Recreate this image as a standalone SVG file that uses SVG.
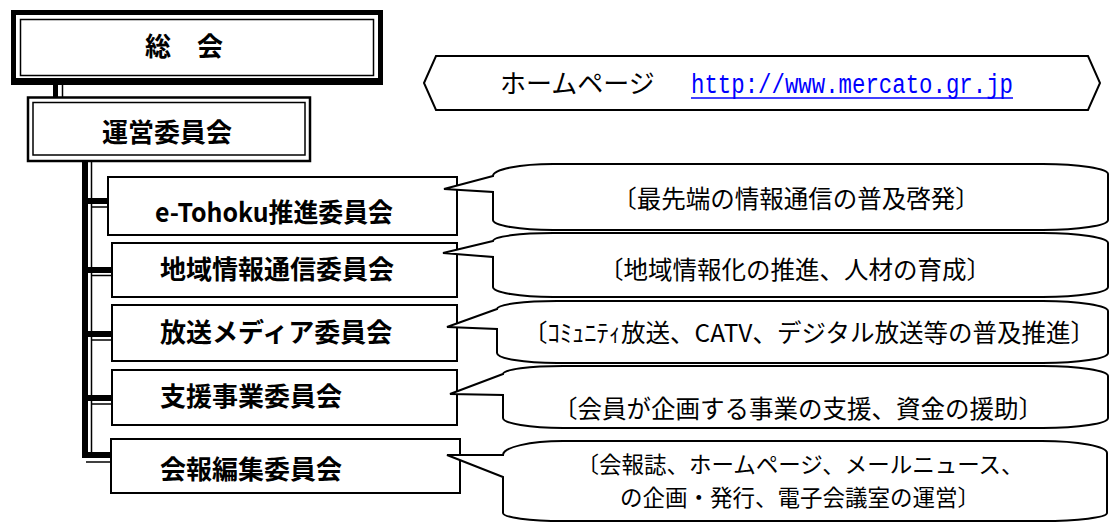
<svg xmlns="http://www.w3.org/2000/svg" width="1109" height="522" viewBox="0 0 1109 522">
<style>
.box{fill:#fff;stroke:#000;stroke-width:2}
.lbl{font-family:"Noto Sans CJK JP","Liberation Sans",sans-serif;font-weight:bold;font-size:26px;fill:#000}
.txt{font-family:"Noto Sans CJK JP","Liberation Sans",sans-serif;font-size:24.5px;fill:#000;text-anchor:middle}
.bub{fill:#fff;stroke:#000;stroke-width:2;stroke-linejoin:miter}
.thin{stroke:#000;stroke-width:1.5;fill:none}
</style>
<rect width="1109" height="522" fill="#fff"/>
<g id="connectors">
  <rect x="53" y="85" width="5" height="13" fill="#000"/>
  <line class="thin" x1="62.5" y1="85" x2="62.5" y2="98"/>
  <rect x="82" y="161" width="6" height="297" fill="#000"/>
  <line class="thin" x1="91.5" y1="161" x2="91.5" y2="452"/>
  <rect x="88" y="198" width="20" height="6" fill="#000"/>
  <line class="thin" x1="91" y1="207" x2="108" y2="207"/>
  <rect x="88" y="267" width="24" height="6" fill="#000"/>
  <line class="thin" x1="91" y1="275.5" x2="112" y2="275.5"/>
  <rect x="88" y="331" width="24" height="6" fill="#000"/>
  <line class="thin" x1="91" y1="340" x2="112" y2="340"/>
  <rect x="88" y="395" width="24" height="6" fill="#000"/>
  <line class="thin" x1="91" y1="404" x2="112" y2="404"/>
  <rect x="82" y="452" width="30" height="6" fill="#000"/>
  <line class="thin" x1="86" y1="462" x2="111" y2="462"/>
</g>
<g id="n-soukai">
  <rect x="11" y="10" width="372" height="75" fill="#000"/>
  <rect x="16" y="15" width="362" height="63" fill="#fff"/>
  <rect x="20.5" y="19.5" width="353" height="56" fill="none" stroke="#000" stroke-width="1.5"/>
  <text class="lbl" x="145" y="56">総　会</text>
</g>
<g id="n-unei">
  <rect x="28" y="97.5" width="282" height="63.5" fill="#fff" stroke="#000" stroke-width="2.5"/>
  <rect x="33" y="102.5" width="272" height="52.5" fill="none" stroke="#000" stroke-width="1.5"/>
  <text class="lbl" x="102" y="142">運営委員会</text>
</g>
<g id="n-homepage">
  <polygon points="424,83 436,56 1088,56 1100,83 1088,110 436,110" fill="#fff" stroke="#000" stroke-width="2"/>
  <text x="500" y="93" style="font-family:'Noto Sans CJK JP',sans-serif;font-size:26px;fill:#000">ホームページ</text>
  <text x="691" y="93" textLength="322" lengthAdjust="spacingAndGlyphs" style="font-family:'Liberation Mono',monospace;font-size:27px;fill:#0000ff">http://www.mercato.gr.jp</text>
  <line x1="691" y1="98" x2="1013" y2="98" stroke="#0000ff" stroke-width="1.5"/>
</g>
<g id="n-etohoku">
  <rect class="box" x="108" y="177" width="349" height="58"/>
  <text class="lbl" x="155" y="222" textLength="238" lengthAdjust="spacingAndGlyphs">e-Tohoku推進委員会</text>
</g>
<g id="n-chiiki">
  <rect class="box" x="112" y="243" width="345" height="54"/>
  <text class="lbl" x="160" y="279">地域情報通信委員会</text>
</g>
<g id="n-housou">
  <rect class="box" x="112" y="305" width="345" height="56"/>
  <text class="lbl" x="160" y="342">放送メディア委員会</text>
</g>
<g id="n-shien">
  <rect class="box" x="112" y="370" width="345" height="55"/>
  <text class="lbl" x="160" y="406">支援事業委員会</text>
</g>
<g id="n-kaihou">
  <rect class="box" x="111" y="439" width="349" height="54"/>
  <text class="lbl" x="160" y="479">会報編集委員会</text>
</g>
<g id="c-1">
  <path class="bub" d="M493,176 L444,189 L493,192 L493,220 A60,10 0 0 0 553,230 L1043,230 A65,10 0 0 0 1108,220 L1108,174 A65,10 0 0 0 1043,164 L553,164 A60,12 0 0 0 493,176 Z"/>
  <text class="txt" x="796" y="208">〔最先端の情報通信の普及啓発〕</text>
</g>
<g id="c-2">
  <path class="bub" d="M493,241 L443,253 L493,257 L493,287 A60,10 0 0 0 553,297 L1043,297 A65,10 0 0 0 1108,287 L1108,243 A65,10 0 0 0 1043,233 L553,233 A60,8 0 0 0 493,241 Z"/>
  <text class="txt" x="795" y="279">〔地域情報化の推進、人材の育成〕</text>
</g>
<g id="c-3">
  <path class="bub" d="M497,309 L447,327 L497,329 L497,353 A60,10 0 0 0 557,363 L1043,363 A65,10 0 0 0 1108,353 L1108,311 A65,10 0 0 0 1043,301 L557,301 A60,8 0 0 0 497,309 Z"/>
  <text class="txt" x="809" y="342">〔ｺﾐｭﾆﾃｨ放送、CATV、デジタル放送等の普及推進〕</text>
</g>
<g id="c-4">
  <path class="bub" d="M503,374 L450,394 L503,395 L503,418 A60,10 0 0 0 563,428 L1043,428 A65,10 0 0 0 1108,418 L1108,376 A65,10 0 0 0 1043,366 L563,366 A60,8 0 0 0 503,374 Z"/>
  <text class="txt" x="798" y="418">〔会員が企画する事業の支援、資金の援助〕</text>
</g>
<g id="c-5">
  <path class="bub" d="M503,455 L447,455 L503,477 L503,513 A60,8 0 0 0 563,521 L1042,521 A65,8 0 0 0 1107,513 L1107,453 A65,12 0 0 0 1042,441 L563,441 A60,14 0 0 0 503,455 Z"/>
  <text class="txt" x="800" y="473" style="font-size:22.5px">〔会報誌、ホームページ、メールニュース、</text>
  <text class="txt" x="800" y="506" style="font-size:22.5px">の企画・発行、電子会議室の運営〕</text>
</g>
</svg>
